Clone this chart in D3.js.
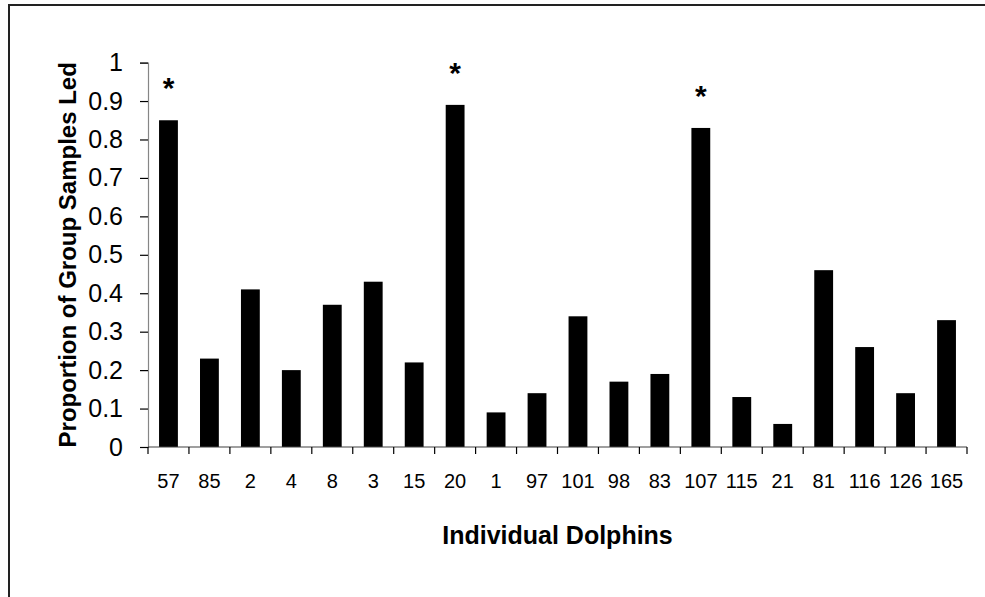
<!DOCTYPE html>
<html>
<head>
<meta charset="utf-8">
<script src="https://cdn.jsdelivr.net/npm/d3@7/dist/d3.min.js"></script>
<style>
  html, body { margin: 0; padding: 0; background: #fff; }
  svg { display: block; font-family: "Liberation Sans", Arial, sans-serif; }
</style>
</head>
<body>
<svg id="chart" width="985" height="597"></svg>
<script>
// Dolphins (x categories) and the proportion of group samples each one led
const dolphins = ["57", "85", "2", "4", "8", "3", "15", "20", "1", "97",
                  "101", "98", "83", "107", "115", "21", "81", "116", "126", "165"];
const proportionLed = [0.85, 0.23, 0.41, 0.20, 0.37, 0.43, 0.22, 0.89, 0.09, 0.14,
                       0.34, 0.17, 0.19, 0.83, 0.13, 0.06, 0.46, 0.26, 0.14, 0.33];
// Dolphins flagged with an asterisk
const flagged = ["57", "20", "107"];
const yTickLabels = ["0", "0.1", "0.2", "0.3", "0.4", "0.5", "0.6", "0.7", "0.8", "0.9", "1"];

const data = dolphins.map((d, i) => ({ id: d, value: proportionLed[i] }));

const svg = d3.select("#chart");
const plot = { left: 148, right: 967, top: 62.6, bottom: 447 };

// outer frame
svg.append("rect")
  .attr("x", 9).attr("y", 5)
  .attr("width", 1100).attr("height", 1100)
  .attr("fill", "none").attr("stroke", "#222").attr("stroke-width", 2);

const x = d3.scaleBand().domain(dolphins).range([plot.left, plot.right]).padding(0);
const y = d3.scaleLinear().domain([0, 1]).range([plot.bottom, plot.top]);
const barFrac = 0.46;

// bars
svg.append("g").selectAll("rect")
  .data(data)
  .join("rect")
  .attr("x", d => x(d.id) + x.bandwidth() * (1 - barFrac) / 2)
  .attr("width", x.bandwidth() * barFrac)
  .attr("y", d => y(d.value))
  .attr("height", d => y(0) - y(d.value))
  .attr("fill", "#000");

// y axis
const yAxis = d3.axisLeft(y)
  .tickValues(yTickLabels.map(Number))
  .tickFormat((d, i) => yTickLabels[i])
  .tickSize(8)
  .tickPadding(17);
const gy = svg.append("g").attr("transform", `translate(${plot.left},0)`).call(yAxis);
gy.select(".domain").attr("stroke", "#868686").attr("stroke-width", 1.2);
gy.selectAll(".tick line").attr("stroke", "#000").attr("stroke-width", 1.2);
gy.selectAll(".tick text")
  .attr("font-size", 25).attr("fill", "#000")
  .attr("font-family", "Liberation Sans, Arial, sans-serif");

// x axis: labels centered under bars, tick marks between categories
const xAxis = d3.axisBottom(x).tickSize(0).tickPadding(0);
const gx = svg.append("g").attr("transform", `translate(0,${plot.bottom})`).call(xAxis);
gx.select(".domain").remove();
gx.selectAll(".tick text")
  .attr("font-size", 20).attr("fill", "#000")
  .attr("dy", null).attr("y", 41)
  .attr("font-family", "Liberation Sans, Arial, sans-serif");

const boundaries = dolphins.map(d => x(d)).concat([x.range()[1]]);
svg.append("line")
  .attr("x1", plot.left).attr("x2", plot.right)
  .attr("y1", plot.bottom).attr("y2", plot.bottom)
  .attr("stroke", "#404040").attr("stroke-width", 1.2);
svg.append("g").selectAll("line")
  .data(boundaries)
  .join("line")
  .attr("x1", d => d).attr("x2", d => d)
  .attr("y1", plot.bottom).attr("y2", plot.bottom + 7)
  .attr("stroke", "#000").attr("stroke-width", 1.2);

// asterisks over flagged dolphins
svg.append("g").selectAll("text")
  .data(data.filter(d => flagged.includes(d.id)))
  .join("text")
  .attr("x", d => x(d.id) + x.bandwidth() / 2)
  .attr("y", d => y(d.value) - 22)
  .attr("text-anchor", "middle")
  .attr("font-size", 30).attr("font-weight", "bold")
  .text("*");

// axis titles
svg.append("text")
  .attr("x", (plot.left + plot.right) / 2).attr("y", 544)
  .attr("text-anchor", "middle")
  .attr("font-size", 25).attr("font-weight", "bold")
  .text("Individual Dolphins");

svg.append("text")
  .attr("transform", `translate(76,${(plot.top + plot.bottom) / 2}) rotate(-90)`)
  .attr("text-anchor", "middle")
  .attr("font-size", 24).attr("font-weight", "bold")
  .text("Proportion of Group Samples Led");
</script>
</body>
</html>
